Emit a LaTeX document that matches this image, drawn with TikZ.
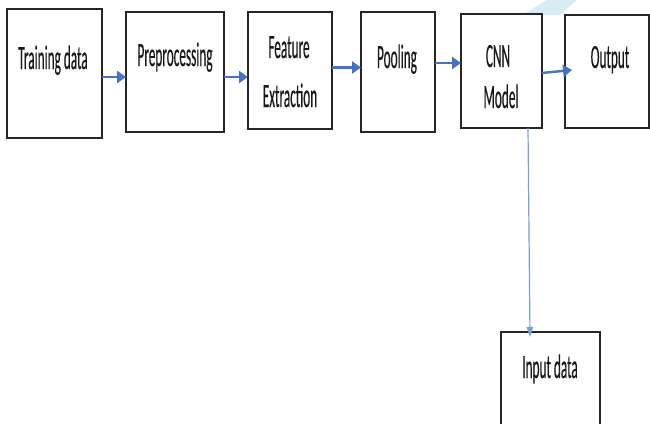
\documentclass[tikz,border=0pt]{standalone}
\usepackage{fontspec}
\setmainfont{Carlito}[FakeStretch=0.39,FakeBold=0.3]
\usetikzlibrary{arrows.meta,calc}
\definecolor{flowblue}{HTML}{4472C4}
\definecolor{stemblue}{HTML}{7A9EDC}
\definecolor{washcyan}{HTML}{D8EDF3}
\begin{document}
\begin{tikzpicture}[x=1pt,y=-1pt,
  stagebox/.style={draw=black!85,line width=1.5pt,fill=white,inner sep=0pt,outer sep=0pt},
  lbl/.style={anchor=base,inner sep=0pt,text=black!90,font=\fontsize{34}{40}\selectfont},
  flow/.style={draw=flowblue,line width=2.4pt,-{Triangle[length=9pt,width=12pt]}},
  stem/.style={draw=stemblue,line width=1.2pt,-{Triangle[length=10pt,width=6.5pt]}}]
\useasboundingbox (0,0) rectangle (650,423);

% faint wash behind the top edge
\fill[washcyan] (547,0) -- (577,0) -- (560,15) -- (522,15) -- cycle;

% stage boxes
\node[stagebox,minimum width=95pt,minimum height=129pt] (b1) at (54.5,73.5) {};
\node[stagebox,minimum width=98pt,minimum height=120pt] (b2) at (175,72) {};
\node[stagebox,minimum width=84pt,minimum height=117pt] (b3) at (290,70.5) {};
\node[stagebox,minimum width=74pt,minimum height=120pt] (b4) at (398,72) {};
\node[stagebox,minimum width=81pt,minimum height=114pt] (b5) at (501.5,71) {};
\node[stagebox,minimum width=84pt,minimum height=113pt] (b6) at (607,71.5) {};
\node[stagebox,minimum width=99pt,minimum height=98pt] (b7) at (550.5,381) {};

% labels
\node[lbl] (t1) at (53,69) {Training data};
\node[lbl] (t2) at (175,66) {Preprocessing};
\node[lbl] (t3a) at (289,58) {Feature};
\node[lbl] (t3b) at (290,107) {Extraction};
\node[lbl] (t4) at (397,68) {Pooling};
\node[lbl] (t5a) at (498,67) {CNN};
\node[lbl] (t5b) at (501,108) {Model};
\node[lbl] (t6) at (610,68) {Output};
\node[lbl] (t7) at (550,378) {Input data};

% connectors
\draw[flow] ([yshift=-3.5pt]b1.east) -- ([yshift=-3.5pt]b1.east -| b2.west);
\draw[flow] ([yshift=-5pt]b2.east) -- ([yshift=-5pt]b2.east -| b3.west);
\draw[flow] ([yshift=3pt]b3.east) -- ([yshift=3pt]b3.east -| b4.west);
\draw[flow] ([yshift=9pt]b4.east) -- ([yshift=9pt]b4.east -| b5.west);
\draw[flow] ([yshift=-2pt]b5.east) -- ([xshift=7pt,yshift=1.5pt]b6.west);
\draw[stem] ([xshift=26.5pt]b5.south) -- ([xshift=-20.5pt,yshift=-5pt]b7.north);
\end{tikzpicture}
\end{document}
